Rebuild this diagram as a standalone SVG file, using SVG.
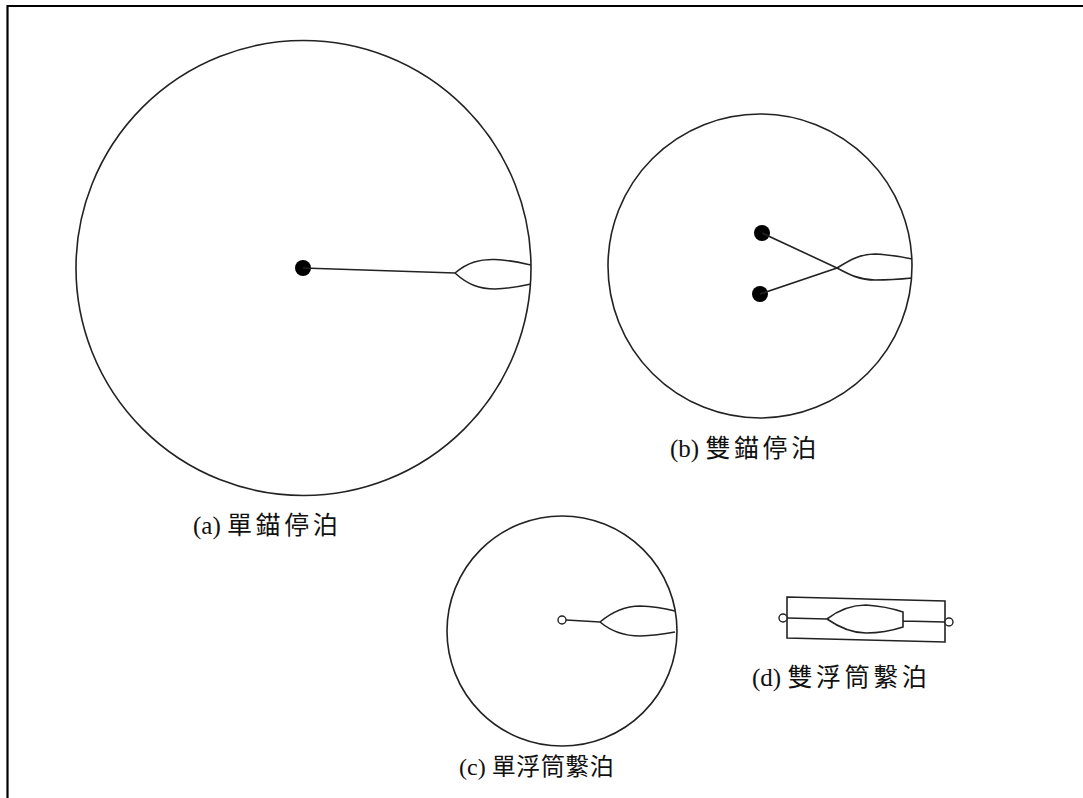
<svg xmlns="http://www.w3.org/2000/svg" width="1083" height="798" viewBox="0 0 1083 798">
<style>
.ln{fill:none;stroke:#222;stroke-width:1.6}
.dot{fill:#000}
.od{fill:#fff;stroke:#222;stroke-width:1.4}
.lbl{font-family:"Liberation Serif","Noto Sans CJK TC",serif;font-size:25px;fill:#111}
.cjk{letter-spacing:3.6px}
.tight{font-size:24px}
.tight .cjk{letter-spacing:0.5px}
</style>
<rect width="1083" height="798" fill="#fff"/>
<g id="frame">
<path d="M7.5,798 V6 H1083" fill="none" stroke="#000" stroke-width="2.2"/>
</g>
<g id="node-a">
<circle class="ln" cx="303.5" cy="268" r="227.5"/>
<circle class="dot" cx="303" cy="268" r="8"/>
<path class="ln" d="M455,273 C468,262 480,259 495,259.5 C510,260 522,263 531,265 M455,273 C468,285 480,289 495,289 C510,288.5 522,286 531,284"/>
<text class="lbl" x="193" y="534">(a) <tspan class="cjk">單錨停泊</tspan></text>
</g>
<g id="node-b">
<circle class="ln" cx="760" cy="266" r="152"/>
<circle class="dot" cx="762" cy="233" r="8"/>
<circle class="dot" cx="760" cy="294" r="8"/>
<text class="lbl" x="670" y="457">(b) <tspan class="cjk">雙錨停泊</tspan></text>
</g>
<g id="node-c">
<circle class="ln" cx="562" cy="631" r="115"/>
<text class="lbl tight" x="459" y="775">(c) <tspan class="cjk">單浮筒繫泊</tspan></text>
</g>
<g id="node-d">
<path class="ln" d="M787,597 L945,601 L945,642 L787,638 Z"/>
<text class="lbl" x="752" y="686">(d) <tspan class="cjk">雙浮筒繫泊</tspan></text>
</g>
<g id="connectors">
<path class="ln" d="M303,268 L455,273"/>
<path class="ln" d="M762,233 L837,268 C850,275 860,280 875,280 C890,280 902,279 912,278"/>
<path class="ln" d="M760,294 L837,268 C850,260 860,254 875,254 C890,254.5 902,257 912,259"/>
<path class="ln" d="M566,620 L600,622 C612,612 625,606 640,606 C655,606.5 667,609 675,611 M600,622 C612,632 625,636 640,636 C655,635.5 667,633.5 675,632"/>
<path class="ln" d="M787,618 L827,619 C840,609 852,605 866,605 C882,606 894,609 903,612 L903,627 C894,630 882,633 866,633 C852,633 840,628 827,619 M903,621 L945,622"/>
<circle class="od" cx="562" cy="620" r="4"/>
<circle class="od" cx="783" cy="618" r="4"/>
<circle class="od" cx="949" cy="622" r="4"/>
</g>
</svg>
